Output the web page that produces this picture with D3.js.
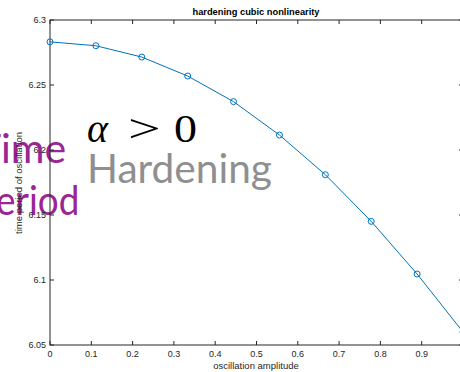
<!DOCTYPE html>
<html>
<head>
<meta charset="utf-8">
<script src="https://cdn.jsdelivr.net/npm/d3@7"></script>
<style>
  html, body { margin: 0; padding: 0; background: #fff; }
  svg { display: block; }
</style>
</head>
<body>
<svg id="chart" width="460" height="372" font-family="'Liberation Sans', Arial, sans-serif"></svg>
<script>
// Oscillation amplitude (linspace 0..1, 10 samples) and period of oscillation
const amplitudes = [0, 0.1111, 0.2222, 0.3333, 0.4444, 0.5556, 0.6667, 0.7778, 0.8889, 1.0];
const periods = [6.2832, 6.2802, 6.2715, 6.2569, 6.2372, 6.2115, 6.1810, 6.1451, 6.1046, 6.0600];
const xTicks = [0, 0.1, 0.2, 0.3, 0.4, 0.5, 0.6, 0.7, 0.8, 0.9, 1.0];
const xTickLabels = ["0", "0.1", "0.2", "0.3", "0.4", "0.5", "0.6", "0.7", "0.8", "0.9", ""];
const yTicks = [6.05, 6.1, 6.15, 6.2, 6.25, 6.3];
const yTickLabels = ["6.05", "6.1", "6.15", "6.2", "6.25", "6.3"];

const svg = d3.select("#chart");
const axisColor = "#262626";
const lineColor = "#0072BD";

const plotLeft = 50, plotRight = 463, plotTop = 20, plotBottom = 345;
const x = d3.scaleLinear().domain([0, 1]).range([plotLeft, plotRight]);
const y = d3.scaleLinear().domain([6.05, 6.3]).range([plotBottom, plotTop]);

// Slide captions sitting behind the plot; the first letter of each runs off the left edge
const purple = "#9a2594";
const captionFont = "Lato, 'Open Sans', sans-serif";
function edgeCaption(label, baseline, secondCharX, squeeze) {
  const holder = svg.append("g");
  const t = holder.append("text").attr("x", 0).attr("y", baseline)
    .attr("font-family", captionFont).attr("font-size", 41)
    .attr("fill", purple).text(label);
  const off = t.node().getStartPositionOfChar(1).x;
  holder.attr("transform", `translate(${secondCharX - squeeze * off},0) scale(${squeeze},1)`);
}
edgeCaption("Time", 163, 1, 1);
edgeCaption("Period", 215, -4, 0.9);

// Math caption: α > 0
const mathFont = "'Liberation Serif', 'DejaVu Serif', serif";
svg.append("text").attr("x", 87).attr("y", 142)
  .attr("font-family", mathFont).attr("font-size", 40)
  .attr("font-style", "italic").attr("fill", "#000").text("α");
svg.append("g").attr("transform", "translate(128,142) scale(1.45,1)")
  .append("text").attr("x", 0).attr("y", 0)
  .attr("font-family", mathFont).attr("font-size", 40)
  .attr("fill", "#000").text(">");
svg.append("g").attr("transform", "translate(174,142) scale(1.15,1)")
  .append("text").attr("x", 0).attr("y", 0)
  .attr("font-family", mathFont).attr("font-size", 40)
  .attr("fill", "#000").text("0");

svg.append("text").attr("x", 87).attr("y", 183)
  .attr("font-family", captionFont)
  .attr("font-size", 40).attr("fill", "#8f8f8f")
  .attr("textLength", 185).attr("lengthAdjust", "spacingAndGlyphs")
  .text("Hardening");

// Axes box
const g = svg.append("g");
g.append("rect").attr("x", plotLeft).attr("y", plotTop)
  .attr("width", plotRight - plotLeft).attr("height", plotBottom - plotTop)
  .attr("fill", "none").attr("stroke", axisColor).attr("stroke-width", 1);

const tickLen = 4;
// x ticks (bottom and top, inward)
g.selectAll("line.xb").data(xTicks).enter().append("line")
  .attr("x1", d => x(d)).attr("x2", d => x(d))
  .attr("y1", plotBottom).attr("y2", plotBottom - tickLen)
  .attr("stroke", axisColor);
g.selectAll("line.xt").data(xTicks).enter().append("line")
  .attr("x1", d => x(d)).attr("x2", d => x(d))
  .attr("y1", plotTop).attr("y2", plotTop + tickLen)
  .attr("stroke", axisColor);
// y ticks (left and right, inward)
g.selectAll("line.yl").data(yTicks).enter().append("line")
  .attr("x1", plotLeft).attr("x2", plotLeft + tickLen)
  .attr("y1", d => y(d)).attr("y2", d => y(d))
  .attr("stroke", axisColor);
g.selectAll("line.yr").data(yTicks).enter().append("line")
  .attr("x1", plotRight).attr("x2", plotRight - tickLen)
  .attr("y1", d => y(d)).attr("y2", d => y(d))
  .attr("stroke", axisColor);

// tick labels
g.selectAll("text.xl").data(xTicks).enter().append("text")
  .attr("x", d => x(d)).attr("y", 357)
  .attr("text-anchor", "middle").attr("font-size", 9).attr("fill", axisColor)
  .text((d, i) => xTickLabels[i]);
g.selectAll("text.yl").data(yTicks).enter().append("text")
  .attr("x", plotLeft - 4).attr("y", d => y(d) + 3)
  .attr("text-anchor", "end").attr("font-size", 9).attr("fill", axisColor)
  .text((d, i) => yTickLabels[i]);

// labels and title
g.append("text").attr("x", 256).attr("y", 369)
  .attr("text-anchor", "middle").attr("font-size", 9.5).attr("fill", axisColor)
  .text("oscillation amplitude");
g.append("text")
  .attr("transform", "translate(22,183) rotate(-90)")
  .attr("text-anchor", "middle").attr("font-size", 9.5).attr("fill", axisColor)
  .text("time period of oscillation");
g.append("text").attr("x", 256).attr("y", 15)
  .attr("text-anchor", "middle").attr("font-size", 9.3).attr("font-weight", "bold")
  .attr("fill", "#000")
  .text("hardening cubic nonlinearity");

// data line with circle markers
const pts = amplitudes.map((a, i) => [a, periods[i]]);
g.append("path").datum(pts)
  .attr("d", d3.line().x(d => x(d[0])).y(d => y(d[1])))
  .attr("fill", "none").attr("stroke", lineColor).attr("stroke-width", 1);
g.selectAll("circle").data(pts).enter().append("circle")
  .attr("cx", d => x(d[0])).attr("cy", d => y(d[1])).attr("r", 3)
  .attr("fill", "none").attr("stroke", lineColor).attr("stroke-width", 1);
</script>
</body>
</html>
